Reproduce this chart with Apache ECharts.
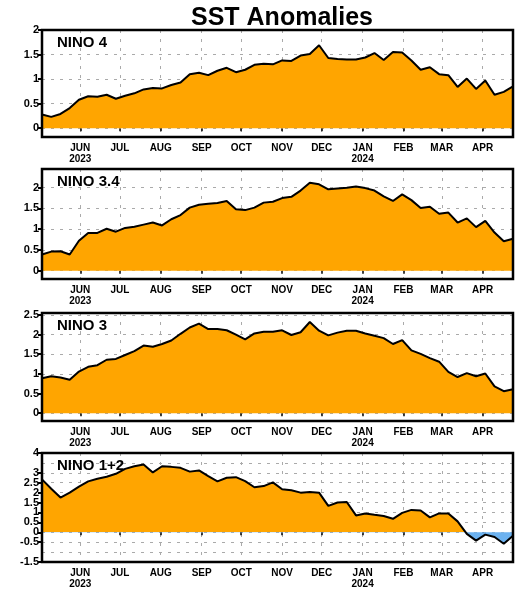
<!DOCTYPE html>
<html>
<head>
<meta charset="utf-8">
<script src="https://cdn.jsdelivr.net/npm/echarts@6/dist/echarts.min.js"></script>
<style>
  html, body { margin: 0; padding: 0; background: #fff; }
  #box { width: 520px; height: 590px; }
</style>
</head>
<body>
<div id="box"></div>
<script>
// weekly dates (week centre, Wednesdays)
var weeks = [
  '2023-05-03','2023-05-10','2023-05-17','2023-05-24','2023-05-31',
  '2023-06-07','2023-06-14','2023-06-21','2023-06-28',
  '2023-07-05','2023-07-12','2023-07-19','2023-07-26',
  '2023-08-02','2023-08-09','2023-08-16','2023-08-23','2023-08-30',
  '2023-09-06','2023-09-13','2023-09-20','2023-09-27',
  '2023-10-04','2023-10-11','2023-10-18','2023-10-25',
  '2023-11-01','2023-11-08','2023-11-15','2023-11-22','2023-11-29',
  '2023-12-06','2023-12-13','2023-12-20','2023-12-27',
  '2024-01-03','2024-01-10','2024-01-17','2024-01-24','2024-01-31',
  '2024-02-07','2024-02-14','2024-02-21','2024-02-28',
  '2024-03-06','2024-03-13','2024-03-20','2024-03-27',
  '2024-04-03','2024-04-10','2024-04-17','2024-04-24'
];

var nino4 = [0.28,0.23,0.29,0.41,0.58,0.65,0.64,0.68,0.60,0.66,0.71,0.79,0.82,0.81,0.88,0.93,
  1.10,1.13,1.08,1.17,1.23,1.14,1.19,1.29,1.31,1.30,1.38,1.37,1.48,1.51,1.69,1.43,1.41,1.40,
  1.40,1.44,1.53,1.39,1.55,1.54,1.38,1.19,1.24,1.10,1.08,0.84,1.01,0.80,0.97,0.68,0.74,0.85];

var nino34 = [0.39,0.46,0.47,0.39,0.72,0.91,0.91,1.01,0.94,1.03,1.06,1.11,1.16,1.09,1.24,1.34,
  1.52,1.59,1.61,1.63,1.68,1.48,1.46,1.52,1.64,1.66,1.75,1.78,1.93,2.12,2.08,1.96,1.98,2.00,
  2.03,1.99,1.93,1.79,1.68,1.84,1.70,1.51,1.54,1.37,1.40,1.16,1.26,1.05,1.20,0.92,0.71,0.77];

var nino3 = [0.89,0.94,0.91,0.85,1.06,1.18,1.22,1.36,1.38,1.48,1.58,1.72,1.69,1.76,1.85,2.02,
  2.18,2.28,2.14,2.14,2.11,2.00,1.88,2.03,2.07,2.07,2.11,1.99,2.06,2.32,2.10,1.98,2.05,2.10,
  2.10,2.03,1.97,1.91,1.76,1.86,1.60,1.51,1.40,1.31,1.05,0.92,1.02,0.94,1.01,0.68,0.56,0.61];

var nino12 = [2.67,2.20,1.75,2.00,2.30,2.57,2.70,2.80,2.95,3.20,3.33,3.42,3.02,3.33,3.30,3.25,
  3.06,3.12,2.83,2.57,2.75,2.78,2.58,2.27,2.33,2.52,2.17,2.12,2.00,2.03,2.00,1.33,1.50,1.53,
  0.85,0.95,0.88,0.82,0.68,0.98,1.13,1.10,0.75,0.95,0.95,0.55,-0.08,-0.42,-0.12,-0.24,-0.58,-0.17];

var panelNames = ['NINO 4', 'NINO 3.4', 'NINO 3', 'NINO 1+2'];
var monthTicks = ['2023-06-01','2023-07-01','2023-08-01','2023-09-01','2023-10-01','2023-11-01',
  '2023-12-01','2024-01-01','2024-02-01','2024-03-01','2024-04-01'];
var monthNames = ['JAN','FEB','MAR','APR','MAY','JUN','JUL','AUG','SEP','OCT','NOV','DEC'];

var yTicks1 = [0, 0.5, 1, 1.5, 2];
var yTicks2 = [0, 0.5, 1, 1.5, 2];
var yTicks3 = [0, 0.5, 1, 1.5, 2, 2.5];
var yTicks4 = [-1.5, -1, -0.5, 0, 0.5, 1, 1.5, 2, 2.5, 3, 3.5, 4];
var yRanges = [[-0.18, 2], [-0.2, 2.45], [-0.2, 2.55], [-1.5, 4]];

var ORANGE = '#ffa500';
var BLUE = '#6cb2f0';
var FONT = 'Liberation Sans';

function toTime(s) {
  var p = s.split('-');
  return new Date(+p[0], +p[1] - 1, +p[2]).getTime();
}
var tickTimes = monthTicks.map(toTime);

var gridTops = [30, 169, 313, 453];
var gridHeights = [107, 110, 108, 109];
var allTicks = [yTicks1, yTicks2, yTicks3, yTicks4];
var allData = [nino4, nino34, nino3, nino12];

var grids = [], xAxes = [], yAxes = [], series = [];
var titles = [{
  text: 'SST Anomalies',
  left: 186, top: 1,
  textStyle: { fontFamily: FONT, fontSize: 25, fontWeight: 'bold', color: '#000' }
}];

for (var k = 0; k < 4; k++) {
  grids.push({
    left: 42, right: 7, top: gridTops[k], height: gridHeights[k],
    show: true, z: 10,
    backgroundColor: 'transparent',
    borderColor: '#000', borderWidth: 2.5,
    outerBoundsMode: 'none'
  });
  xAxes.push({
    type: 'value', gridIndex: k,
    min: toTime('2023-05-03'), max: toTime('2024-04-24'),
    axisLine: { show: false },
    axisTick: { show: true, customValues: tickTimes, length: 3, lineStyle: { color: '#000', width: 1.5 } },
    axisLabel: {
      customValues: tickTimes,
      fontFamily: FONT, fontWeight: 'bold', fontSize: 10, color: '#000',
      lineHeight: 11, margin: 6,
      formatter: function (val) {
        var d = new Date(val);
        var s = monthNames[d.getMonth()];
        if (d.getMonth() === 0 || (d.getMonth() === 5 && d.getFullYear() === 2023)) {
          s += '\n' + d.getFullYear();
        }
        return s;
      }
    },
    splitLine: { show: true, lineStyle: { color: '#aaa', type: [3, 6], width: 1 } }
  });
  yAxes.push({
    type: 'value', gridIndex: k,
    min: yRanges[k][0], max: yRanges[k][1],
    axisLine: { show: false },
    axisTick: { show: true, customValues: allTicks[k], length: 4, lineStyle: { color: '#000', width: 2 } },
    axisLabel: {
      customValues: allTicks[k],
      showMinLabel: true, showMaxLabel: true, hideOverlap: false,
      fontFamily: FONT, fontWeight: 'bold', fontSize: 11, color: '#000', margin: 3
    },
    splitLine: { show: true, lineStyle: { color: '#aaa', type: [3, 6], width: 1 } }
  });
  var pts = weeks.map(function (w, i) { return [toTime(w), allData[k][i]]; });
  series.push({
    type: 'line', xAxisIndex: k, yAxisIndex: k,
    data: pts, showSymbol: false, symbol: 'none',
    lineStyle: { color: '#000', width: 2 },
    itemStyle: { color: ORANGE },
    areaStyle: k === 3 ? { opacity: 1, origin: 0 } : { color: ORANGE, opacity: 1, origin: 0 },
    animation: false
  });
  titles.push({
    text: panelNames[k], left: 52, top: gridTops[k],
    textStyle: { fontFamily: FONT, fontSize: 15, fontWeight: 'bold', color: '#000' }
  });
}

var myChart = echarts.init(document.getElementById('box'), null, { renderer: 'canvas' });
myChart.setOption({
  backgroundColor: '#fff',
  animation: false,
  title: titles,
  grid: grids,
  xAxis: xAxes,
  yAxis: yAxes,
  visualMap: [{
    show: false, type: 'piecewise', seriesIndex: 3, dimension: 1,
    pieces: [{ min: -10, max: 0, color: BLUE }, { gt: 0, max: 10, color: ORANGE }]
  }],
  series: series
});
</script>
</body>
</html>
